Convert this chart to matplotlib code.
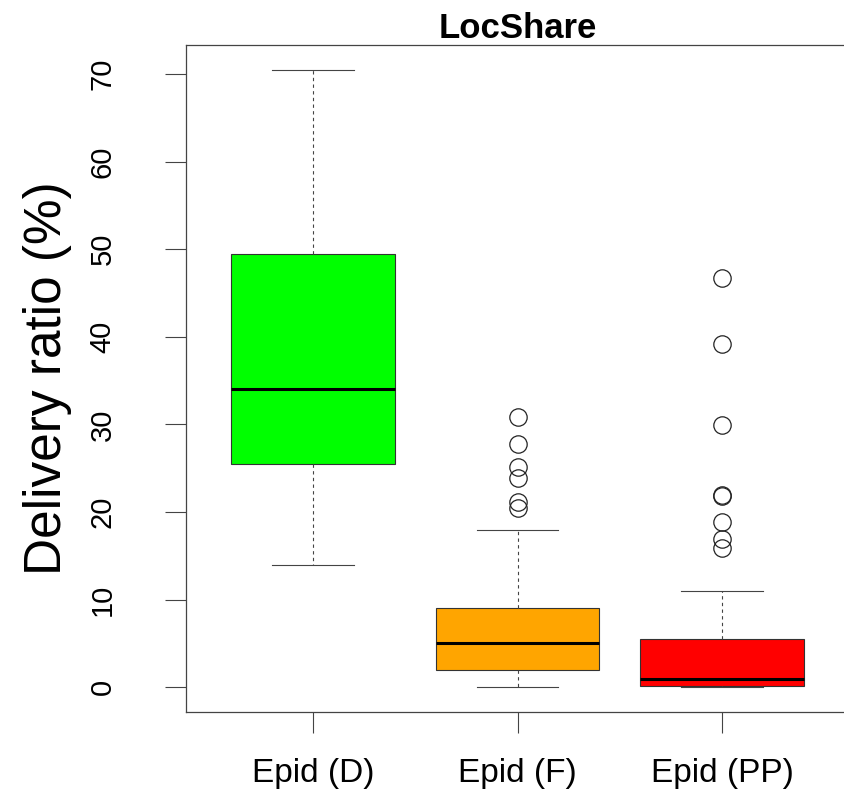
import matplotlib.pyplot as plt

plt.rcParams['font.family'] = ['Liberation Sans', 'DejaVu Sans']

labels = ['Epid (D)', 'Epid (F)', 'Epid (PP)']
colors = ['#00ff00', '#ffa500', '#ff0000']
whislo = [14.0, 0.0, 0.0]
q1 = [25.5, 2.0, 0.1]
med = [34.0, 5.0, 1.0]
q3 = [49.4, 9.0, 5.5]
whishi = [70.5, 18.0, 11.0]
fliers = [
    [],
    [30.9, 27.8, 25.1, 23.9, 21.1, 20.5],
    [46.7, 39.2, 29.9, 21.8, 21.9, 18.9, 16.9, 15.9],
]

stats = []
for i in range(len(labels)):
    stats.append({'label': labels[i], 'whislo': whislo[i], 'q1': q1[i], 'med': med[i],
                  'q3': q3[i], 'whishi': whishi[i], 'fliers': fliers[i]})

fig = plt.figure(figsize=(8.44, 7.95), dpi=100)
ax = fig.add_axes([186 / 844, 1 - 712 / 795, (849 - 186) / 844, (712 - 45) / 795])

bp = ax.bxp(stats, positions=[1, 2, 3], widths=0.8, patch_artist=True,
            boxprops=dict(edgecolor='#333333', linewidth=0.8),
            medianprops=dict(color='black', linewidth=2.2),
            whiskerprops=dict(color='#444444', linestyle=(0, (3, 3)), linewidth=0.8),
            capprops=dict(color='#444444', linewidth=0.8),
            capwidths=0.4,
            flierprops=dict(marker='o', markerfacecolor='none', markeredgecolor='#222222',
                            markersize=12.5, markeredgewidth=0.9))
for patch, c in zip(bp['boxes'], colors):
    patch.set_facecolor(c)

ax.set_xlim(0.38, 3.62)
ax.set_ylim(-2.82, 73.3)
ax.set_yticks([0, 10, 20, 30, 40, 50, 60, 70])
ax.set_yticklabels(['0', '10', '20', '30', '40', '50', '60', '70'], rotation=90, va='center')
ax.set_xticks([1, 2, 3])
ax.set_xticklabels(labels)
ax.tick_params(axis='y', length=15, width=0.8, color='#444444', labelsize=21, pad=35)
ax.tick_params(axis='x', length=15, width=0.8, color='#444444', labelsize=24, pad=18)
for s in ax.spines.values():
    s.set_linewidth(0.9)
    s.set_color('#444444')

ax.set_ylabel('Delivery ratio (%)', fontsize=37, labelpad=12)
ax.set_title('LocShare', fontsize=25, fontweight='bold', pad=4)

fig.savefig('out.png', dpi=100)
